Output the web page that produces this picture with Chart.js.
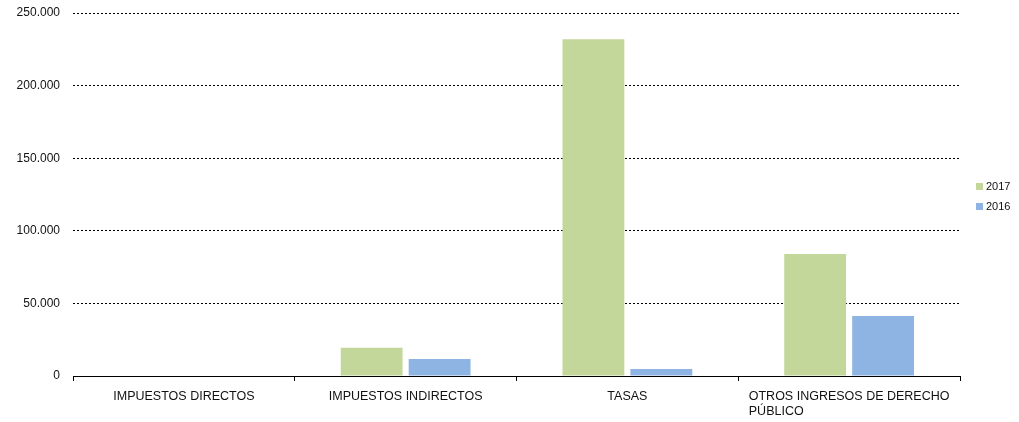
<!DOCTYPE html>
<html>
<head>
<meta charset="utf-8">
<script src="https://cdn.jsdelivr.net/npm/chart.js@4/dist/chart.umd.min.js"></script>
<style>
    html, body { margin: 0; padding: 0; background: #fff; }
    #wrap { width: 1019px; height: 422px; position: relative; }
</style>
</head>
<body>
<div id="wrap"><canvas id="chart"></canvas></div>
<script>
const categories = [
    ['IMPUESTOS DIRECTOS'],
    ['IMPUESTOS INDIRECTOS'],
    ['TASAS'],
    ['OTROS INGRESOS DE DERECHO', 'PÚBLICO']
]
const values2017 = [0, 19500, 232000, 84000]
const values2016 = [0, 11700, 4800, 41300]
const yTicks = [0, 50000, 100000, 150000, 200000, 250000]

const FONT = '"Liberation Sans", Arial, sans-serif'

const fmt = v => v.toLocaleString('de-DE')

// category labels drawn by hand so the wrapped one stays left aligned like the original
const xLabels = {
    id: 'xLabels',
    afterDraw(chart) {
        const ctx = chart.ctx
        const x = chart.scales.x
        ctx.save()
        ctx.font = '12.5px ' + FONT
        ctx.fillStyle = '#111'
        ctx.textBaseline = 'middle'
        ctx.textAlign = 'left'
        categories.forEach((lines, i) => {
            const cx = x.getPixelForValue(i)
            const left = cx - ctx.measureText(lines[0]).width / 2
            lines.forEach((line, j) => {
                ctx.fillText(line, left, 397 + j * 15)
            })
        })
        ctx.restore()
    }
}

const sideLegend = {
    id: 'sideLegend',
    afterDraw(chart) {
        const ctx = chart.ctx
        ctx.save()
        ctx.font = '11px ' + FONT
        ctx.textAlign = 'left'
        ctx.textBaseline = 'middle'
        chart.data.datasets.forEach((ds, i) => {
            const y = 186 + i * 20
            ctx.fillStyle = ds.backgroundColor
            ctx.fillRect(976, y - 3, 7, 7)
            ctx.fillStyle = '#111'
            ctx.fillText(ds.label, 986, y + 1)
        })
        ctx.restore()
    }
}

new Chart(document.getElementById('chart'), {
    type: 'bar',
    data: {
        labels: categories.map(c => c.join(' ')),
        datasets: [
            {
                label: '2017',
                data: values2017,
                backgroundColor: '#c4d79b',
                borderWidth: 0,
                categoryPercentage: 0.613,
                barPercentage: 0.91
            },
            {
                label: '2016',
                data: values2016,
                backgroundColor: '#8db4e2',
                borderWidth: 0,
                categoryPercentage: 0.613,
                barPercentage: 0.91
            }
        ]
    },
    options: {
        responsive: true,
        maintainAspectRatio: false,
        animation: false,
        layout: { padding: { top: 13, right: 59, left: 0, bottom: 0 } },
        plugins: {
            legend: { display: false },
            tooltip: { enabled: false }
        },
        scales: {
            x: {
                afterFit: s => {
                    s.height = 46
                    s.paddingLeft = 0
                    s.paddingRight = 0
                },
                border: { display: true, color: '#000', width: 1 },
                grid: {
                    offset: true,
                    drawOnChartArea: false,
                    drawTicks: true,
                    tickLength: 5,
                    color: '#000'
                },
                ticks: { display: false }
            },
            y: {
                min: 0,
                max: 250000,
                afterFit: s => {
                    s.width = 73
                    s.paddingTop = 0
                    s.paddingBottom = 0
                },
                afterBuildTicks: s => { s.ticks = yTicks.map(v => ({ value: v })) },
                border: { display: false, dash: [2, 2] },
                grid: {
                    drawTicks: false,
                    color: '#000',
                    lineWidth: 1
                },
                ticks: {
                    padding: 13,
                    color: '#111',
                    font: { family: FONT, size: 12 },
                    callback: v => fmt(v)
                }
            }
        }
    },
    plugins: [xLabels, sideLegend]
})
</script>
</body>
</html>
